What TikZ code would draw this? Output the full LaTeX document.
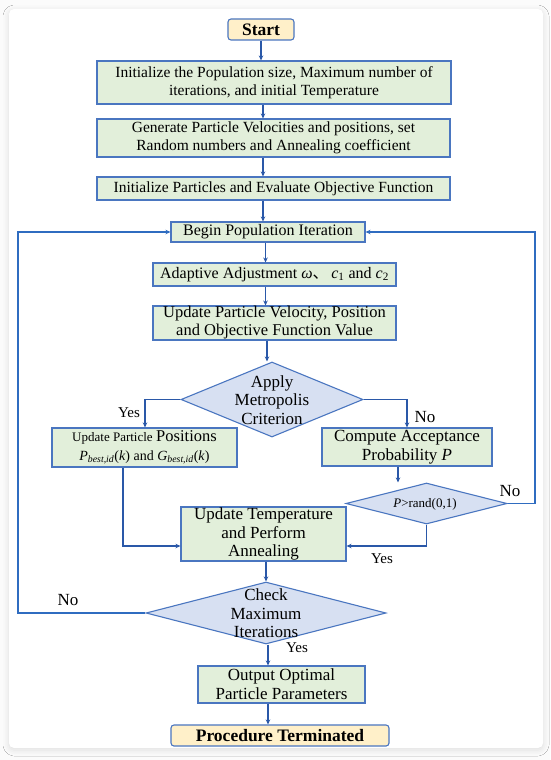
\documentclass[tikz,border=0pt]{standalone}
\usepackage{fontspec}
\setmainfont{Liberation Serif}
\newfontfamily\cjkfont{Noto Sans CJK SC}
\usetikzlibrary{shapes.geometric,arrows.meta,shadows.blur}
\definecolor{bcol}{HTML}{4A76C0}
\definecolor{gfill}{HTML}{E2EFDA}
\definecolor{dfill}{HTML}{D7E0F2}
\definecolor{yfill}{HTML}{FFF0C9}
\definecolor{acol}{HTML}{2A58A8}
\definecolor{lcol}{HTML}{2F6CC0}
\definecolor{bgcol}{HTML}{FBFBFB}
\newcommand{\fs}[1]{\fontsize{#1}{1.15\dimexpr #1pt\relax}\selectfont}
\begin{document}
\begin{tikzpicture}[x=1pt,y=-1pt,
  procbox/.style={draw=bcol, fill=gfill, line width=1.1pt, inner sep=0pt, align=center},
  termbox/.style={procbox, fill=yfill, rounded corners=3pt},
  decbox/.style={diamond, draw=bcol, fill=dfill, line width=1.1pt, inner sep=0pt},
  flow/.style={draw=acol, line width=1.4pt, -{Stealth[length=5pt,width=4.5pt]}},
  loopline/.style={draw=lcol, line width=1.6pt, -{Stealth[length=5pt,width=4.5pt]}},
  lbl/.style={inner sep=0pt, font=\fs{16}},
  dtext/.style={align=center, inner sep=0pt, font={\fontsize{17}{18.5}\selectfont}}
]
\useasboundingbox (0,0) rectangle (550,760);
\fill[bgcol] (0,0) rectangle (550,760);
\fill[white, rounded corners=5pt, blur shadow={shadow xshift=0pt, shadow yshift=-2pt, shadow blur radius=6pt, shadow opacity=12}] (9,9) rectangle (543,748);

% nodes
\node[termbox, minimum width=66pt, minimum height=21pt, font=\bfseries\fs{17.5}] (start) at (261,29.5) {Start};
\node[procbox, minimum width=354pt, minimum height=43pt, font={\fontsize{15.5}{18}\selectfont}] (b1) at (274,82.5)
  {Initialize the Population size, Maximum number of\\iterations, and initial Temperature};
\node[procbox, minimum width=353pt, minimum height=38pt, font={\fontsize{15.5}{18}\selectfont}] (b2) at (273.5,138)
  {Generate Particle Velocities and positions, set\\Random numbers and Annealing coefficient};
\node[procbox, minimum width=353pt, minimum height=23pt, font=\fs{15.5}] (b3) at (273.5,188.5)
  {Initialize Particles and Evaluate Objective Function};
\node[procbox, minimum width=194pt, minimum height=20pt, font=\fs{16}] (begin) at (268,232)
  {Begin Population Iteration};
\node[procbox, minimum width=243pt, minimum height=23pt, font=\fs{16}] (adapt) at (274.5,274.5)
  {Adaptive Adjustment \textit{ω}{\cjkfont 、}\,\textit{c}\textsubscript{1} and \textit{c}\textsubscript{2}};
\node[procbox, minimum width=243pt, minimum height=34pt, font={\fontsize{16.5}{18}\selectfont}] (upd) at (274.5,323)
  {Update Particle Velocity, Position\\and Objective Function Value};
\node[decbox, minimum width=182pt, minimum height=75pt] (d1) at (272,399.5) {};
\node[dtext] (d1t) at (272,400) {Apply\\Metropolis\\Criterion};
\node[procbox, minimum width=185pt, minimum height=39pt, font={\fontsize{14}{19}\selectfont}] (upos) at (144.5,447.5)
  {{\fontsize{13}{19}\selectfont Update Particle} {\fontsize{16.5}{19}\selectfont Positions}\\
   \textit{P}\textsubscript{\textit{best,id}}(\textit{k}) and \textit{G}\textsubscript{\textit{best,id}}(\textit{k})};
\node[procbox, minimum width=170pt, minimum height=38pt, font={\fontsize{17}{19}\selectfont}] (comp) at (407,447)
  {Compute Acceptance\\Probability \textit{P}};
\node[decbox, minimum width=161pt, minimum height=41pt] (d2) at (426.5,503.5) {};
\node[inner sep=0pt, font=\fs{13}] (d2t) at (425,504) {\textit{P}>rand(0,1)};
\node[procbox, minimum width=165pt, minimum height=54pt, font={\fontsize{17}{18.5}\selectfont}] (temp) at (263.5,534)
  {Update Temperature\\and Perform\\Annealing};
\node[decbox, minimum width=240pt, minimum height=62pt] (d3) at (266,613) {};
\node[dtext] (d3t) at (266,613.5) {Check\\Maximum\\Iterations};
\node[procbox, minimum width=167pt, minimum height=37pt, font={\fontsize{17}{19}\selectfont}] (out) at (281.5,684.5)
  {Output Optimal\\Particle Parameters};
\node[termbox, minimum width=218pt, minimum height=21pt, font=\bfseries\fs{17.5}] (term) at (280,735.5)
  {Procedure Terminated};

% column / row helpers
\coordinate (xa) at (263,0);
\coordinate (xb) at (265.5,0);
\coordinate (xc) at (267,0);
\coordinate (xd) at (398,0);
\coordinate (xe) at (266,0);
\coordinate (xf) at (268,0);
\coordinate (xg) at (145,0);
\coordinate (xi) at (123,0);
\coordinate (xl) at (18,0);
\coordinate (xr) at (535,0);
\coordinate (yy) at (0,546);

% connectors
\draw[flow] (start.south) -- (start.south |- b1.north);
\draw[flow] (b1.south -| xa) -- (b2.north -| xa);
\draw[flow] (b2.south -| xa) -- (b3.north -| xa);
\draw[flow] (b3.south -| xa) -- (begin.north -| xa);
\draw[flow] (begin.south -| xb) -- (adapt.north -| xb);
\draw[flow] (adapt.south -| xb) -- (upd.north -| xb);
\draw[flow] (upd.south -| xc) -- (d1.north -| xc);
\draw[flow] (d1.west) -| (xg |- upos.north);
\draw[flow] (d1.east) -| (comp.north);
\draw[flow] (comp.south -| xd) -- (d2.north -| xd);
\draw[loopline] (d2.east) -- (xr |- d2.east) -- (xr |- begin.east) -- (begin.east);
\draw[flow] (d2.south) -- (d2.south |- yy) -- (temp.east |- yy);
\draw[flow] (upos.south -| xi) -- (xi |- yy) -- (temp.west |- yy);
\draw[flow] (temp.south -| xe) -- (d3.north -| xe);
\draw[loopline] (d3.west) -- (xl |- d3.west) -- (xl |- begin.west) -- (begin.west);
\draw[flow] (d3.south -| xf) -- (out.north -| xf);
\draw[flow] (out.south -| xf) -- (term.north -| xf);

% labels
\node[lbl, font=\fs{15}] (l1) at (129,413) {Yes};
\node[lbl, font=\fs{17}] (l2) at (425,417) {No};
\node[lbl, font=\fs{17}] (l3) at (510,491) {No};
\node[lbl, font=\fs{15}] (l4) at (382,559) {Yes};
\node[lbl, font=\fs{17}] (l5) at (68,600) {No};
\node[lbl, font=\fs{15}] (l6) at (297,648) {Yes};
\end{tikzpicture}
\end{document}
